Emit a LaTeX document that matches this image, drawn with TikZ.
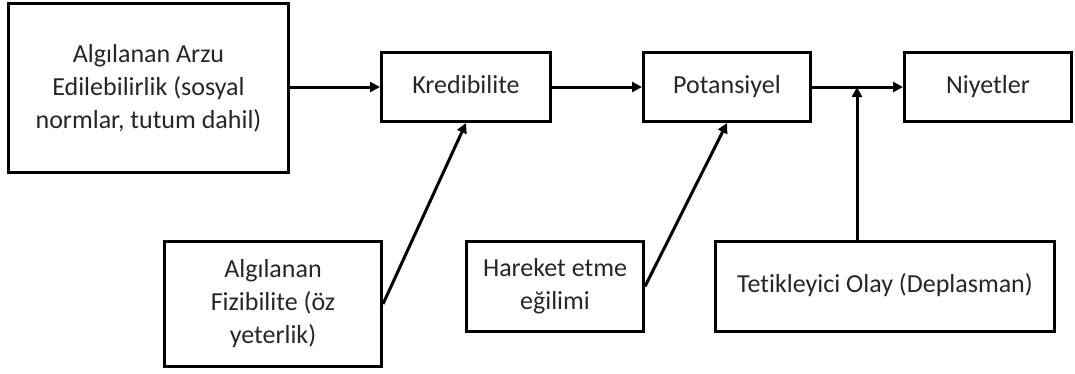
\documentclass[tikz,border=0pt]{standalone}
\usepackage{fontspec}
\setmainfont{Carlito}[Ligatures={NoCommon}]
\usetikzlibrary{arrows.meta}

\tikzset{
	kutu/.style={draw, line width=3pt, align=center, text=black!85,
		font=\fontsize{26}{33}\selectfont},
	tek/.style={kutu, text height=18pt, text depth=6pt},
	ok/.style={line width=3pt, -{Triangle[length=10pt, width=10pt]}}
}

\begin{document}
\begin{tikzpicture}[x=1pt, y=-1pt]
		\useasboundingbox (0, 0) rectangle (1075, 373);

		\node[kutu, minimum width=280pt, minimum height=169pt] (arzu) at (148.5, 88)
			{Algılanan Arzu\\Edilebilirlik (sosyal\\normlar, tutum dahil)};
		\node[tek, minimum width=169pt, minimum height=69pt] (kred) at (466, 87) {Kredibilite};
		\node[tek, minimum width=167pt, minimum height=69pt] (pot) at (727, 87) {Potansiyel};
		\node[tek, minimum width=167pt, minimum height=69pt] (niy) at (988, 87) {Niyetler};

		\node[kutu, minimum width=217pt, minimum height=125pt] (fiz) at (273, 304)
			{Algılanan\\Fizibilite (öz\\yeterlik)};
		\node[kutu, minimum width=177pt, minimum height=90pt] (har) at (555, 286.5)
			{Hareket etme\\eğilimi};
		\node[tek, minimum width=339pt, minimum height=90pt] (tet) at (885, 286.5)
			{Tetikleyici Olay (Deplasman)};

		\coordinate (birles) at (857, 87);

		\draw[ok] (arzu.east |- kred) -- (kred.west);
		\draw[ok] (kred.east) -- (pot.west);
		\draw[ok] (pot.east) -- (niy.west);
		\draw[ok] (fiz.east) -- (kred.south);
		\draw[ok] (har.east) -- (pot.south);
		\draw[ok] (tet.north -| birles) -- (birles);
	\end{tikzpicture}
\end{document}
